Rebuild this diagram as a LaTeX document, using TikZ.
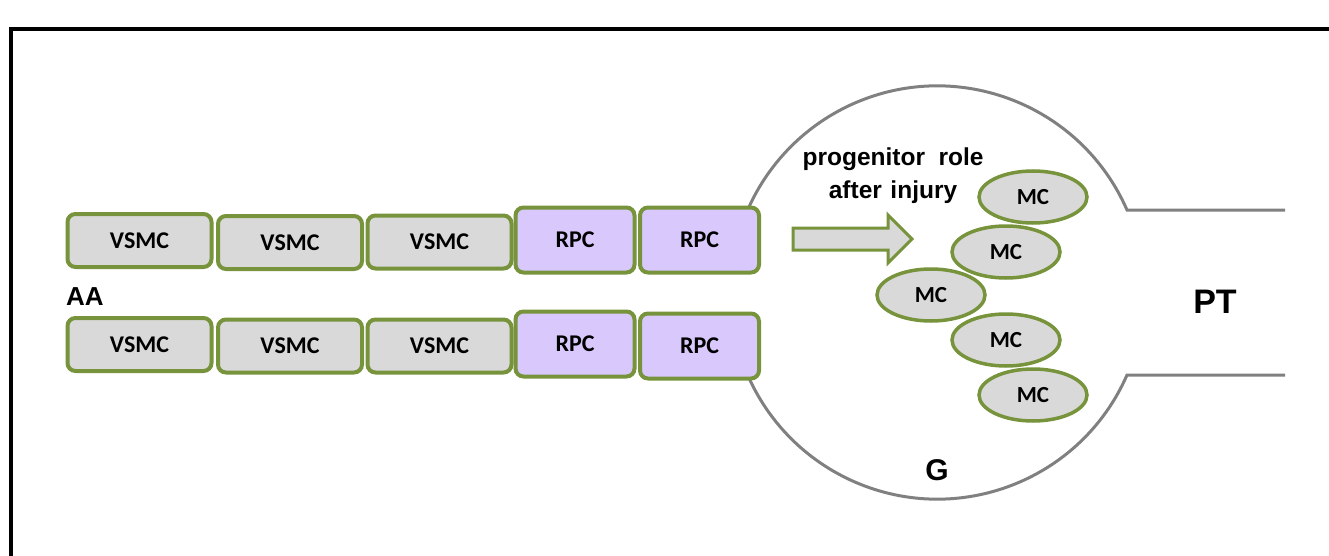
\documentclass[tikz,border=0pt]{standalone}
\usepackage{fontspec}
\setmainfont{Liberation Sans}
\newfontfamily\calfont{Carlito}
\usetikzlibrary{positioning}
\usetikzlibrary{shapes}
\definecolor{leaf}{RGB}{119,147,60}
\definecolor{cellgray}{RGB}{217,217,217}
\definecolor{rpcviolet}{RGB}{217,200,252}
\definecolor{wallgray}{RGB}{128,128,128}
\tikzset{
  wall/.style={wallgray, line width=3pt},
  smcbox/.style={draw=leaf, fill=cellgray, line width=4pt, rounded corners=8pt, minimum width=144pt, minimum height=53pt, inner sep=0pt, font=\calfont\fontsize{24}{24}\selectfont\bfseries},
  rpcbox/.style={smcbox, fill=rpcviolet, minimum width=119pt, minimum height=65pt},
  mcell/.style={draw=leaf, fill=cellgray, ellipse, line width=3.5pt, minimum width=108pt, minimum height=52pt, inner sep=0pt, font=\calfont\fontsize{23}{23}\selectfont\bfseries},
  tag/.style={inner sep=0pt, font=\bfseries\fontsize{#1}{#1}\selectfont}
}
\begin{document}
\begin{tikzpicture}[x=1pt, y=-1pt]
\useasboundingbox (0,0) rectangle (1329,556);
\draw [line width=3.5pt] (11,570) -- (11,29) -- (1340,29);
\draw [wall] (1285,210) -- (1127,210) arc [start angle=-23.6, end angle=-165, radius=207];
\draw [wall] (1285,375) -- (1127,375) arc [start angle=23.6, end angle=165, radius=207];
\node [smcbox] (vt1) at (139.5,240.5) {VSMC};
\node [smcbox] (vt2) at (290,242.5) {VSMC};
\node [smcbox] (vt3) at (439.5,242) {VSMC};
\node [rpcbox] (rt1) at (575,240) {RPC};
\node [rpcbox] (rt2) at (699.5,240) {RPC};
\node [smcbox] (vb1) at (139.5,344.5) {VSMC};
\node [smcbox] (vb2) at (290,346) {VSMC};
\node [smcbox] (vb3) at (439.5,346) {VSMC};
\node [rpcbox] (rb1) at (575,344) {RPC};
\node [rpcbox] (rb2) at (699.5,346) {RPC};
\node [tag=26] (aa) at (85,297) {AA};
\draw [draw=leaf, fill=cellgray, line width=3pt] (793,228) -- (888,228) -- (888,215) -- (912,239) -- (888,263) -- (888,250) -- (793,250) -- cycle;
\node [tag=24, align=center, font=\bfseries\fontsize{24.5}{33}\selectfont] (role) at (893,176) {progenitor\hspace{0.55em}role\\after\hspace{0.35em}injury};
\node [mcell] (mc1) at (1033,197) {MC};
\node [mcell] (mc2) at (1006,252) {MC};
\node [mcell] (mc3) at (931,295) {MC};
\node [mcell] (mc4) at (1006,340) {MC};
\node [mcell] (mc5) at (1033,395) {MC};
\node [tag=30] (g) at (937,470) {G};
\node [tag=34] (pt) at (1215,302) {PT};
\end{tikzpicture}
\end{document}
